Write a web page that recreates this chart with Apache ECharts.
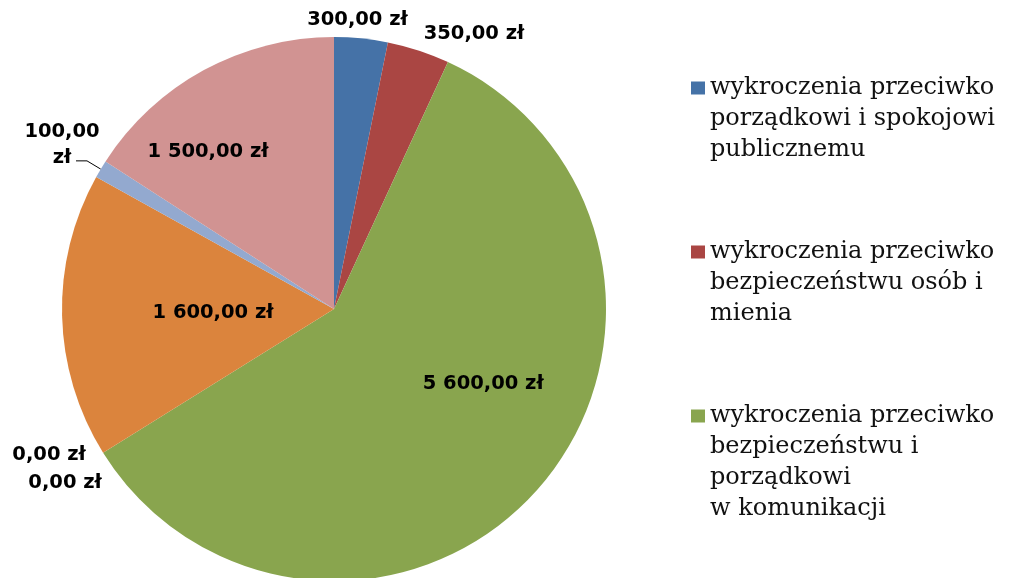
<!DOCTYPE html>
<html><head><meta charset="utf-8">
<script src="https://cdn.jsdelivr.net/npm/echarts@6/dist/echarts.min.js"></script>
<style>html,body{margin:0;padding:0;background:#fff}#c{width:1014px;height:578px}</style>
</head><body><div id="c"></div>
<script>
const categories = [
  'wykroczenia przeciwko\nporządkowi i spokojowi\npublicznemu',
  'wykroczenia przeciwko\nbezpieczeństwu osób i\nmienia',
  'wykroczenia przeciwko\nbezpieczeństwu i\nporządkowi\nw komunikacji',
  'wykroczenia przeciwko\nurządzeniom użytku\npublicznego',
  'wykroczenia przeciwko\nobyczajności publicznej',
  'wykroczenia przeciwko\nmieniu',
  'wykroczenia przeciwko\nosobie',
  'wykroczenia przeciwko\nzdrowiu'
];
const values = [300, 350, 5600, 0, 0, 1600, 100, 1500];

// styles (kept apart from data)
const colors = ['#4572A7','#AA4643','#89A54E','#71588F','#4198AF','#DB843D','#93A9CF','#D19392'];
const labelSide = ['outside','outside','inside','outside','outside','inside','outside','inside'];
const labelShift = [[-3.6,-18.4],[55.5,-16.5],[45,-17],[-54,2],[-38,30],[18,0],[-14,-16],[-59.5,-35]];
const legendTops = [10.5, 174.5, 307.5];

function fmt(v){
  const s = v.toFixed(2).split('.');
  return s[0].replace(/\B(?=(\d{3})+(?!\d))/g, ' ') + ',' + s[1] + ' zł';
}
// pad with empty lines above so the first text line sits level with the legend square
function legendText(name){
  const n = name.split('\n').length;
  return '\n'.repeat(n - 1) + name;
}

const chart = echarts.init(document.getElementById('c'), null, {renderer:'canvas'});
chart.setOption({
  backgroundColor:'#fff',
  animation:false,
  legend: [0,1,2].map(i => ({
    data:[categories[i]], orient:'vertical', left:691, top:legendTops[i], padding:0,
    itemWidth:14, itemHeight:13, icon:'rect', selectedMode:false,
    formatter: legendText,
    textStyle:{fontFamily:'DejaVu Serif', fontSize:24, lineHeight:31, color:'#111'}
  })),
  series:[{
    type:'pie', center:[334,309], radius:272, startAngle:90, clockwise:true,
    avoidLabelOverlap:false, silent:true,
    emphasis:{disabled:true},
    label:{show:true, color:'#000', fontFamily:'DejaVu Sans', fontWeight:'bold', fontSize:19.5, lineHeight:26,
      distanceToLabelLine:0, formatter: p => fmt(p.value)},
    labelLine:{lineStyle:{color:'#000', width:1}},
    labelLayout: p => {
      const s = labelShift[p.dataIndex];
      return {dx:s[0], dy:s[1], align:'center', verticalAlign:'middle'};
    },
    data: values.map((v,i) => ({
      name:categories[i], value:v,
      itemStyle:{color:colors[i]},
      label: i===6 ? {position:labelSide[i], formatter: p => fmt(p.value).replace(' zł','\nzł')} : {position:labelSide[i]},
      labelLine: {show: i===6, length: i===6?16:0, length2: i===6?11:0}
    }))
  }]
});
</script></body></html>
